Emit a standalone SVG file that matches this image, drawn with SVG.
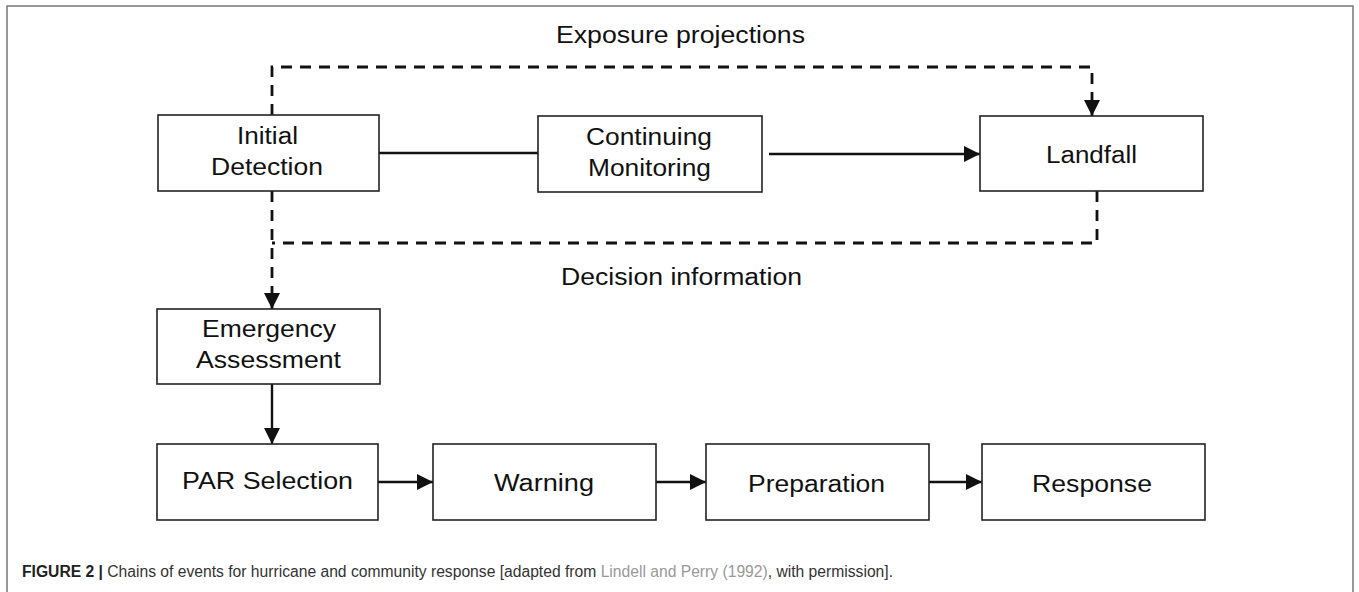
<svg xmlns="http://www.w3.org/2000/svg" width="1359" height="592" viewBox="0 0 1359 592">
<style>
.box{fill:#fff;stroke:#222;stroke-width:1.6}
.lbl{font-family:"Liberation Sans",Arial,sans-serif;font-size:23px;fill:#111}
.solid{fill:none;stroke:#111;stroke-width:2.4}
.dash{fill:none;stroke:#111;stroke-width:2.8;stroke-dasharray:11 8}
.cap{font-family:"Liberation Sans",Arial,sans-serif;font-size:16px;fill:#333}
</style>
<defs>
<marker id="ah" viewBox="0 0 10 10" refX="10" refY="5" markerWidth="16" markerHeight="16" markerUnits="userSpaceOnUse" orient="auto">
<path d="M0,0 L10,5 L0,10 z" fill="#111"/>
</marker>
</defs>
<rect x="0" y="0" width="1359" height="592" fill="#fff"/>
<rect x="7" y="6" width="1346" height="600" fill="none" stroke="#777" stroke-width="1.5"/>

<g id="connectors">
<path class="dash" d="M272,115 V67 H1092 V116" marker-end="url(#ah)"/>
<path class="dash" d="M1097,191 V243 H272"/>
<path class="dash" d="M272,191 V309" marker-end="url(#ah)"/>
<path class="solid" d="M379,153 H538"/>
<path class="solid" d="M769,154 H980" marker-end="url(#ah)"/>
<path class="solid" d="M272,384 V444" marker-end="url(#ah)"/>
<path class="solid" d="M378,482 H433" marker-end="url(#ah)"/>
<path class="solid" d="M656,482 H706" marker-end="url(#ah)"/>
<path class="solid" d="M929,482 H982" marker-end="url(#ah)"/>
</g>

<text class="lbl" x="556" y="43" textLength="249" lengthAdjust="spacingAndGlyphs">Exposure projections</text>
<text class="lbl" x="561" y="285" textLength="241" lengthAdjust="spacingAndGlyphs">Decision information</text>

<g id="initial-detection">
<rect class="box" x="158" y="115" width="221" height="76"/>
<text class="lbl" x="237" y="144" textLength="61" lengthAdjust="spacingAndGlyphs">Initial</text>
<text class="lbl" x="211" y="175" textLength="112" lengthAdjust="spacingAndGlyphs">Detection</text>
</g>
<g id="continuing-monitoring">
<rect class="box" x="538" y="116" width="224" height="76"/>
<text class="lbl" x="586" y="145" textLength="126" lengthAdjust="spacingAndGlyphs">Continuing</text>
<text class="lbl" x="588" y="176" textLength="123" lengthAdjust="spacingAndGlyphs">Monitoring</text>
</g>
<g id="landfall">
<rect class="box" x="980" y="116" width="223" height="75"/>
<text class="lbl" x="1046" y="163" textLength="91" lengthAdjust="spacingAndGlyphs">Landfall</text>
</g>
<g id="emergency-assessment">
<rect class="box" x="157" y="309" width="223" height="75"/>
<text class="lbl" x="202" y="337" textLength="134" lengthAdjust="spacingAndGlyphs">Emergency</text>
<text class="lbl" x="196" y="368" textLength="145" lengthAdjust="spacingAndGlyphs">Assessment</text>
</g>
<g id="par-selection">
<rect class="box" x="157" y="444" width="221" height="76"/>
<text class="lbl" x="182" y="489" textLength="171" lengthAdjust="spacingAndGlyphs">PAR Selection</text>
</g>
<g id="warning">
<rect class="box" x="433" y="444" width="223" height="76"/>
<text class="lbl" x="494" y="491" textLength="100" lengthAdjust="spacingAndGlyphs">Warning</text>
</g>
<g id="preparation">
<rect class="box" x="706" y="444" width="223" height="76"/>
<text class="lbl" x="748" y="492" textLength="137" lengthAdjust="spacingAndGlyphs">Preparation</text>
</g>
<g id="response">
<rect class="box" x="982" y="444" width="223" height="76"/>
<text class="lbl" x="1032" y="492" textLength="120" lengthAdjust="spacingAndGlyphs">Response</text>
</g>

<text class="cap" x="22" y="577" textLength="871" lengthAdjust="spacingAndGlyphs"><tspan font-weight="bold" fill="#222">FIGURE 2 |</tspan> Chains of events for hurricane and community response [adapted from <tspan fill="#999">Lindell and Perry (1992)</tspan>, with permission].</text>
</svg>
